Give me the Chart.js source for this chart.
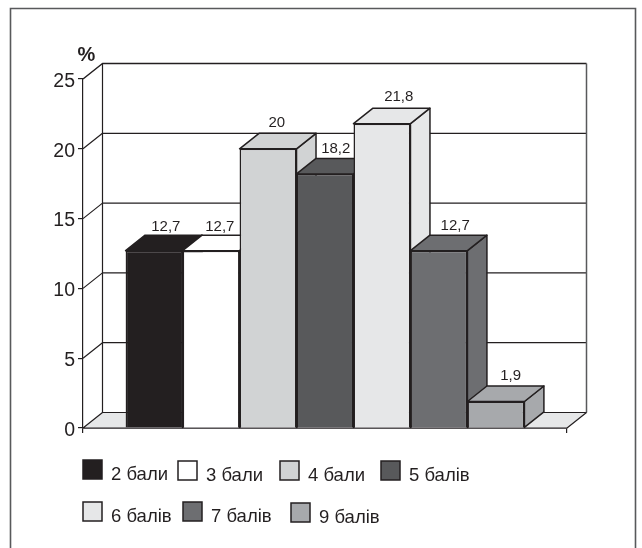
<!DOCTYPE html>
<html>
<head>
<meta charset="utf-8">
<title>Розподіл балів</title>
<script src="https://cdn.jsdelivr.net/npm/chart.js@4"></script>
<style>
    html, body { margin: 0; padding: 0; background: #fff; }
    #wrap { position: relative; width: 642px; height: 548px; }
</style>
</head>
<body>
<div id="wrap"><canvas id="scoreChart" width="642" height="548"></canvas></div>
<script>
const seriesLabels = ['2 бали', '3 бали', '4 бали', '5 балів', '6 балів', '7 балів', '9 балів'];
const seriesValues = [12.7, 12.7, 20, 18.2, 21.8, 12.7, 1.9];
const seriesColors = ['#231f20', '#ffffff', '#d1d3d4', '#58595b', '#e6e7e8', '#6d6e71', '#a7a9ac'];
const yTicks = [0, 5, 10, 15, 20, 25];

const INK = '#231f20';
const DEPTH_X = 19.5;
const DEPTH_Y = -15.5;
const EDGE = 1.5;
const FONT = '"Liberation Sans", Arial, sans-serif';

// value labels don't sit exactly over the bar tops
const labelNudgeX = [2, -1, -1, 1, 7, 6.5, 5];
const labelLift = [8, 8, 10.5, 10, 11, 9.5, 10.5];

// legend rows are laid out by hand, gaps are uneven
const legendCells = [
    { x: 83, y: 460 }, { x: 178, y: 461 }, { x: 280, y: 461 }, { x: 381, y: 461 },
    { x: 83, y: 502 }, { x: 183, y: 502 }, { x: 291, y: 503 }
];

function line(ctx, pts, width, color) {
    ctx.beginPath();
    pts.forEach((p, i) => i ? ctx.lineTo(p[0], p[1]) : ctx.moveTo(p[0], p[1]));
    ctx.lineWidth = width;
    ctx.strokeStyle = color;
    ctx.stroke();
}

function poly(ctx, pts, fill, width) {
    ctx.beginPath();
    pts.forEach((p, i) => i ? ctx.lineTo(p[0], p[1]) : ctx.moveTo(p[0], p[1]));
    ctx.closePath();
    ctx.fillStyle = fill;
    ctx.fill();
    ctx.lineWidth = width;
    ctx.strokeStyle = INK;
    ctx.lineJoin = 'round';
    ctx.stroke();
}

// back wall, side wall and floor behind the bars
const wallsPlugin = {
    id: 'walls',
    beforeDatasetsDraw(chart) {
        const { ctx, chartArea: a, scales: { y } } = chart;
        const top = y.getPixelForValue(25);
        const base = y.getPixelForValue(0);
        ctx.save();
        poly(ctx, [[a.left, base], [a.left + DEPTH_X, base + DEPTH_Y], [a.right + DEPTH_X, base + DEPTH_Y], [a.right, base]], '#e6e7e8', 1.2);
        yTicks.slice(1, -1).forEach(v => {
            const py = y.getPixelForValue(v);
            line(ctx, [[a.left, py], [a.left + DEPTH_X, py + DEPTH_Y], [a.right + DEPTH_X, py + DEPTH_Y]], 1.2, INK);
        });
        line(ctx, [[a.left, top], [a.left + DEPTH_X, top + DEPTH_Y], [a.right + DEPTH_X, top + DEPTH_Y]], 1.5, INK);
        line(ctx, [[a.left + DEPTH_X, top + DEPTH_Y], [a.left + DEPTH_X, base + DEPTH_Y]], 1.2, INK);
        line(ctx, [[a.right + DEPTH_X, top + DEPTH_Y], [a.right + DEPTH_X, base + DEPTH_Y]], 1.5, '#58595b');
        ctx.restore();
    }
};

// bars go left to right so each front covers the side of the previous one
const bars3dPlugin = {
    id: 'bars3d',
    beforeDatasetDraw() {
        return false;
    },
    afterDatasetsDraw(chart) {
        const { ctx } = chart;
        ctx.save();
        chart.data.datasets.forEach((ds, i) => {
            const bar = chart.getDatasetMeta(i).data[0];
            const { x, y, base, width } = bar.getProps(['x', 'y', 'base', 'width'], true);
            const l = x - width / 2;
            const r = x + width / 2;
            poly(ctx, [[r, y], [r + DEPTH_X, y + DEPTH_Y], [r + DEPTH_X, base + DEPTH_Y], [r, base]], ds.backgroundColor, EDGE);
            poly(ctx, [[l, y], [l + DEPTH_X, y + DEPTH_Y], [r + DEPTH_X, y + DEPTH_Y], [r, y]], ds.backgroundColor, EDGE);
            bar.draw(ctx, chart.chartArea);
        });
        // values printed with a decimal comma
        ctx.fillStyle = INK;
        ctx.font = '15px ' + FONT;
        ctx.textAlign = 'center';
        ctx.textBaseline = 'middle';
        chart.data.datasets.forEach((ds, i) => {
            const bar = chart.getDatasetMeta(i).data[0];
            const { x, y } = bar.getProps(['x', 'y'], true);
            const text = String(ds.data[0]).replace('.', ',');
            ctx.fillText(text, x + DEPTH_X / 2 + labelNudgeX[i], y + DEPTH_Y - labelLift[i]);
        });
        ctx.restore();
    }
};

const legendPlugin = {
    id: 'handLegend',
    afterDraw(chart) {
        const { ctx } = chart;
        ctx.save();
        ctx.font = '18.5px ' + FONT;
        ctx.textAlign = 'left';
        ctx.textBaseline = 'middle';
        seriesLabels.forEach((label, i) => {
            const c = legendCells[i];
            ctx.fillStyle = seriesColors[i];
            ctx.fillRect(c.x, c.y, 19, 19);
            ctx.lineWidth = EDGE;
            ctx.strokeStyle = INK;
            ctx.strokeRect(c.x, c.y, 19, 19);
            ctx.fillStyle = INK;
            ctx.fillText(label, c.x + 28, c.y + 15);
        });
        // unit above the value axis
        ctx.font = 'bold 20px ' + FONT;
        ctx.fillText('%', 77.5, 55);
        // page frame, open at the bottom
        line(ctx, [[10.5, 548], [10.5, 8.5], [635.5, 8.5], [635.5, 548]], 1.6, '#58595b');
        ctx.restore();
    }
};

new Chart(document.getElementById('scoreChart'), {
    type: 'bar',
    data: {
        labels: [''],
        datasets: seriesLabels.map((label, i) => ({
            label,
            data: [seriesValues[i]],
            backgroundColor: seriesColors[i],
            borderColor: INK,
            borderWidth: EDGE
        }))
    },
    options: {
        responsive: false,
        animation: false,
        layout: { padding: { top: 79, right: 75 } },
        categoryPercentage: 0.824,
        barPercentage: 1,
        plugins: { legend: { display: false }, tooltip: { enabled: false } },
        scales: {
            x: {
                grid: { drawOnChartArea: false, color: INK, lineWidth: 1.2, tickLength: 5 },
                border: { color: INK, width: 1.5 },
                ticks: { display: false },
                afterFit(s) { s.height = 120; }
            },
            y: {
                min: 0,
                max: 25,
                afterBuildTicks(s) { s.ticks = yTicks.map(value => ({ value })); },
                grid: { drawOnChartArea: false, color: INK, lineWidth: 1.2, tickLength: 5 },
                border: { color: INK, width: 1.2 },
                ticks: { color: INK, font: { family: FONT, size: 19.5 }, padding: 3, labelOffset: 2.5 },
                afterFit(s) { s.width = 83; }
            }
        }
    },
    plugins: [wallsPlugin, bars3dPlugin, legendPlugin]
});
</script>
</body>
</html>
